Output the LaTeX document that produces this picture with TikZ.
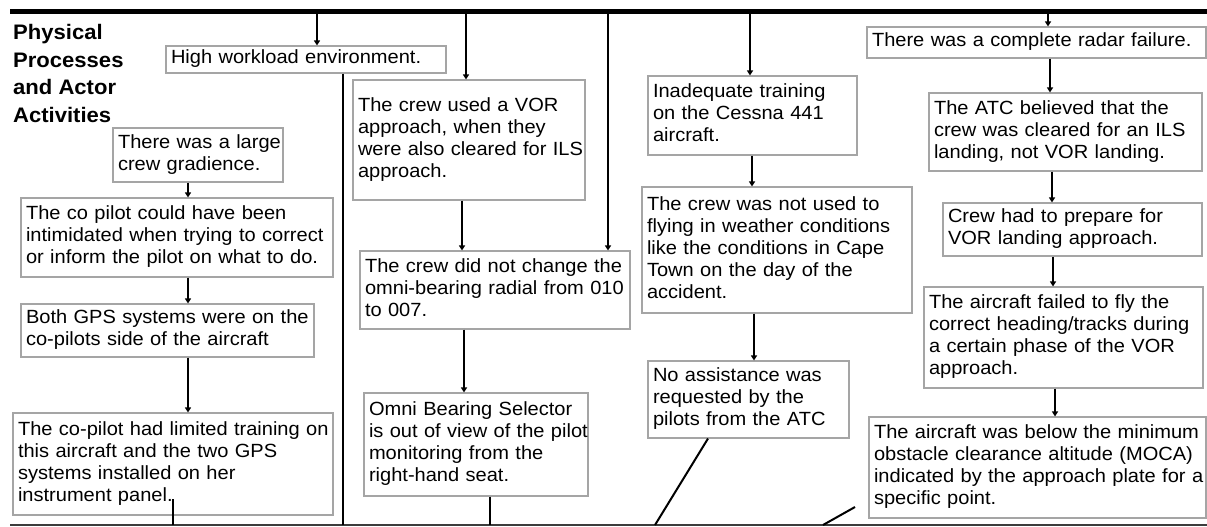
\documentclass[tikz,border=0pt]{standalone}
\usepackage{fontspec}
\setmainfont{Liberation Sans}[FakeStretch=1.05]
\usetikzlibrary{arrows.meta}
\definecolor{boxgray}{RGB}{165,165,165}
\definecolor{linegray}{RGB}{60,60,60}
\newcommand{\boxfont}{\fontsize{19.1}{22}\selectfont}
\newcommand{\ttlfont}{\fontsize{21}{27.4}\selectfont\bfseries}
\newcommand{\tl}[1]{\begin{tabular}{@{}l@{}}#1\end{tabular}}
\tikzset{
  bx/.style={draw=boxgray, line width=1.1pt, fill=white, inner xsep=5pt, inner ysep=0pt, font=\boxfont, anchor=center},
  arr/.style={line width=1.9pt, -{Triangle[length=5pt,width=6pt]}},
  ln/.style={line width=2pt},
  topline/.style={line width=5pt},
  botline/.style={line width=1.6pt, draw=linegray}
}
\begin{document}
\begin{tikzpicture}[x=1pt,y=-1pt]
\useasboundingbox (0,0) rectangle (1207,527);
% frame lines
\coordinate (TL) at (10,11.5);
\coordinate (TR) at (1207,11.5);
\coordinate (BL) at (10,525);
\coordinate (BR) at (1207,525);
\draw[topline] (TL) -- (TR);
\draw[botline] (BL) -- (BR);
% title
\node[anchor=north west, inner sep=0pt, font=\ttlfont] (title) at (13,20.5)
  {\tl{Physical\\Processes\\and Actor\\Activities}};
% boxes
\node[bx, text width=270pt, minimum height=27pt] (B1) at (306,59.5) {\tl{High workload environment.}};
\node[bx, text width=160pt, minimum height=54pt] (B2) at (198,155) {\tl{There was a large\\crew gradience.}};
\node[bx, text width=302pt, minimum height=79pt] (B3) at (177,237.5) {\tl{The co pilot could have been\\intimidated when trying to correct\\or inform the pilot on what to do.}};
\node[bx, text width=283pt, minimum height=53pt] (B4) at (167.5,330.5) {\tl{Both GPS systems were on the\\co-pilots side of the aircraft}};
\node[bx, text width=310pt, minimum height=102pt] (B5) at (173,464) {\tl{The co-pilot had limited training on\\this aircraft and the two GPS\\systems installed on her\\instrument panel.}};
\node[bx, text width=222pt, minimum height=120pt] (B6) at (469,140) {\tl{The crew used a VOR\\approach, when they\\were also cleared for ILS\\approach.}};
\node[bx, text width=260pt, minimum height=78pt] (B7) at (495,290) {\tl{The crew did not change the\\omni-bearing radial from 010\\to 007.}};
\node[bx, text width=214pt, minimum height=103pt] (B8) at (476,444.5) {\tl{Omni Bearing Selector\\is out of view of the pilot\\monitoring from the\\right-hand seat.}};
\node[bx, text width=199pt, minimum height=79pt] (B9) at (752.5,115.5) {\tl{Inadequate training\\on the Cessna 441\\aircraft.}};
\node[bx, text width=260pt, minimum height=126pt] (B10) at (777,250) {\tl{The crew was not used to\\flying in weather conditions\\like the conditions in Cape\\Town on the day of the\\accident.}};
\node[bx, text width=191pt, minimum height=77pt] (B11) at (748.5,399.5) {\tl{No assistance was\\requested by the\\pilots from the ATC}};
\node[bx, text width=329pt, minimum height=31pt] (B12) at (1036.5,42.5) {\tl{There was a complete radar failure.}};
\node[bx, text width=263pt, minimum height=78pt] (B13) at (1065.5,132) {\tl{The ATC believed that the\\crew was cleared for an ILS\\landing, not VOR landing.}};
\node[bx, text width=249pt, minimum height=53pt] (B14) at (1072.5,229.5) {\tl{Crew had to prepare for\\VOR landing approach.}};
\node[bx, text width=269pt, minimum height=101pt] (B15) at (1063.5,337.5) {\tl{The aircraft failed to fly the\\correct heading/tracks during\\a certain phase of the VOR\\approach.}};
\node[bx, text width=327pt, minimum height=101pt] (B16) at (1037.5,467.5) {\tl{The aircraft was below the minimum\\obstacle clearance altitude (MOCA)\\indicated by the approach plate for a\\specific point.}};
% arrows from the top line
\draw[arr] (TL -| 317,0) -- (B1.north -| 317,0);
\draw[arr] (TL -| 466,0) -- (B6.north -| 466,0);
\draw[arr] (TL -| 608,0) -- (B7.north -| 608,0);
\draw[arr] (TL -| 750,0) -- (B9.north -| 750,0);
\draw[arr] (TL -| 1048,0) -- (B12.north -| 1048,0);
% arrows between boxes
\draw[arr] (B2.south -| 188,0) -- (B3.north -| 188,0);
\draw[arr] (B3.south -| 188,0) -- (B4.north -| 188,0);
\draw[arr] (B4.south -| 188,0) -- (B5.north -| 188,0);
\draw[arr] (B6.south -| 462,0) -- (B7.north -| 462,0);
\draw[arr] (B7.south -| 464,0) -- (B8.north -| 464,0);
\draw[arr] (B9.south -| 752,0) -- (B10.north -| 752,0);
\draw[arr] (B10.south -| 754,0) -- (B11.north -| 754,0);
\draw[arr] (B12.south -| 1050,0) -- (B13.north -| 1050,0);
\draw[arr] (B13.south -| 1052,0) -- (B14.north -| 1052,0);
\draw[arr] (B14.south -| 1053,0) -- (B15.north -| 1053,0);
\draw[arr] (B15.south -| 1055,0) -- (B16.north -| 1055,0);
% lines to the bottom line
\coordinate (p5) at (173,499);
\coordinate (q) at (855,507);
\coordinate (qb) at (823,525);
\coordinate (nb) at (655,525);
\draw[ln] (B1.south -| 343,0) -- (BL -| 343,0);
\draw[ln] (p5) -- (BL -| p5);
\draw[ln] (B8.south -| 490,0) -- (BL -| 490,0);
\draw[ln] (B11.south -| 708,0) -- (nb);
\draw[ln] (q) -- (qb);
\end{tikzpicture}
\end{document}
